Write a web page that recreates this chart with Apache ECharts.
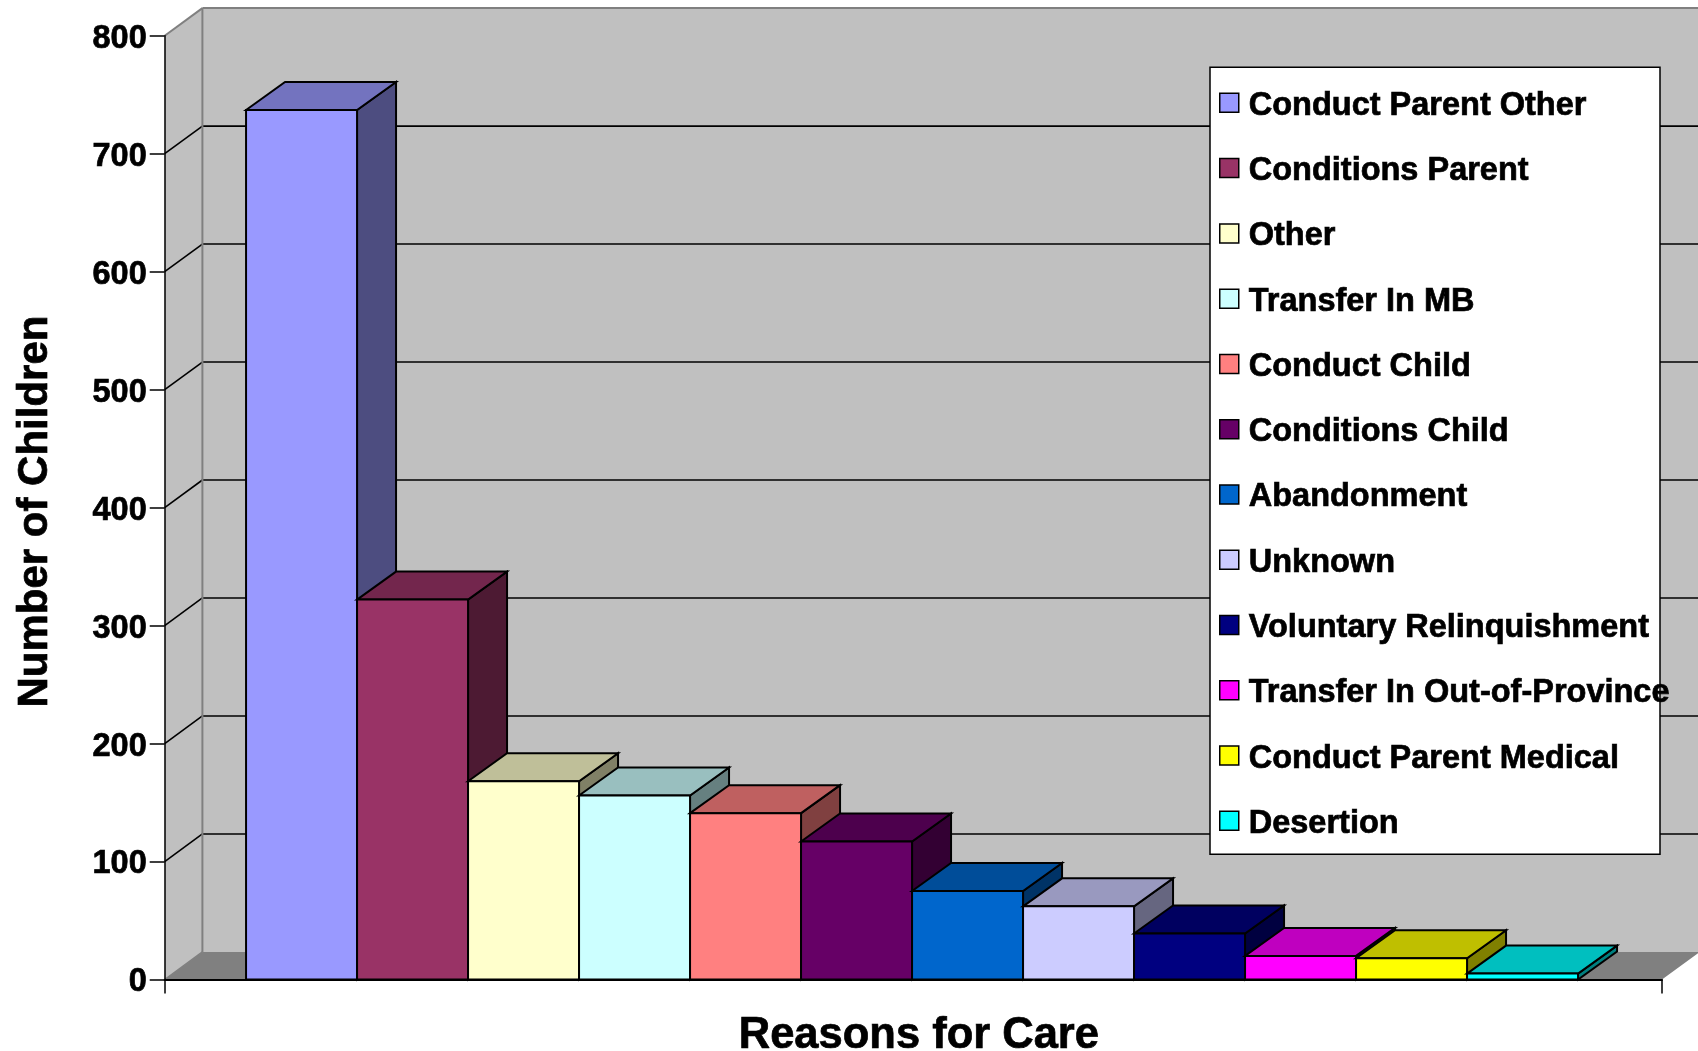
<!DOCTYPE html>
<html><head><meta charset="utf-8">
<style>html,body{margin:0;padding:0;background:#fff;overflow:hidden}#c{width:1698px;height:1051px}</style>
<script src="https://cdn.jsdelivr.net/npm/echarts@6/dist/echarts.min.js"></script>
</head><body><div id="c"></div>
<script>
const categories = ["Reasons for Care"];
const reasons = ["Conduct Parent Other","Conditions Parent","Other","Transfer In MB","Conduct Child","Conditions Child","Abandonment","Unknown","Voluntary Relinquishment","Transfer In Out-of-Province","Conduct Parent Medical","Desertion"];
const children = [737,322,168,156,141,117,75,62,39,20,18,5];
const yTicks = [0,100,200,300,400,500,600,700,800];
const frontColors = ["#9999FF","#993366","#FFFFCC","#CCFFFF","#FF8080","#660066","#0066CC","#CCCCFF","#000080","#FF00FF","#FFFF00","#00FFFF"];

const FONT = "'Liberation Sans', Arial, sans-serif";
const WALL_DX = 37.7, WALL_DY = 27.6, BAR_DX = 39, BAR_DY = 28;
const BAR_FILL = 1332 / 1497.3, BAR_SHIFT = -1.3;
const EDGE = 2;
function shade(hex, f){
  const n = parseInt(hex.slice(1),16);
  const p = [(n>>16)&255,(n>>8)&255,n&255].map(v=>Math.round(v*f));
  return 'rgb('+p.join(',')+')';
}
function poly(points, fill, stroke, lw){
  return {type:'polygon', shape:{points}, style:{fill, stroke, lineWidth:lw, lineJoin:'miter'}};
}
function line(x1,y1,x2,y2,color,lw){
  return {type:'line', shape:{x1,y1,x2,y2}, style:{stroke:color, lineWidth:lw, fill:null}};
}
function renderWalls(params, api){
  const c = api.coord([0,0]);
  const band = api.size([1,0])[0];
  const L = c[0]-band/2, R = c[0]+band/2;
  const y0 = c[1], yT = api.coord([0,yTicks[yTicks.length-1]])[1];
  const d = WALL_DX, e = WALL_DY;
  const kids = [
    poly([[L+d,yT-e],[R+d+40,yT-e],[R+d+40,y0-e],[L+d,y0-e]],'#C0C0C0',null,0),
    poly([[L,yT],[L+d,yT-e],[L+d,y0-e],[L,y0]],'#C0C0C0',null,0),
    poly([[L,y0],[L+d,y0-e],[R+d+40,y0-e],[R+d,y0-e],[R,y0]],'#808080',null,0)
  ];
  yTicks.slice(1,-1).forEach(v=>{
    const y = api.coord([0,v])[1];
    kids.push(line(L,y,L+d,y-e,'#000',1.6));
    kids.push(line(L+d,y-e,R+d+40,y-e,'#000',1.6));
  });
  kids.push(line(L,yT,L+d,yT-e,'#808080',2));
  kids.push(line(L+d,yT-e,R+d+40,yT-e,'#808080',2));
  kids.push(line(L+d,yT-e,L+d,y0-e,'#808080',2));
  kids.push(line(L,y0,L+d,y0-e,'#808080',1.5));
  return {type:'group', children:kids};
}
function renderBar(i){
  return function(params, api){
    const v = api.value(1);
    const base = api.coord([0,0]);
    const top = api.coord([0,v]);
    const w = api.size([1,0])[0]*BAR_FILL/reasons.length;
    const x1 = base[0]+BAR_SHIFT-w*reasons.length/2+i*w, x2 = x1+w;
    const y0 = base[1], y1 = top[1];
    const d = BAR_DX, e = BAR_DY, col = frontColors[i];
    return {type:'group', children:[
      poly([[x2,y1],[x2+d,y1-e],[x2+d,y0-e],[x2,y0]], shade(col,0.5),'#000',EDGE),
      poly([[x1,y1],[x1+d,y1-e],[x2+d,y1-e],[x2,y1]], shade(col,0.75),'#000',EDGE),
      poly([[x1,y1],[x2,y1],[x2,y0],[x1,y0]], col,'#000',EDGE)
    ]};
  };
}
const series = [{
  type:'custom', name:'walls', coordinateSystem:'cartesian2d', z:1, silent:true,
  encode:{x:0,y:1}, data:[[0,0]], renderItem:renderWalls, clip:false
}];
reasons.forEach((name,i)=>{
  series.push({
    type:'custom', name, coordinateSystem:'cartesian2d', z:2+i*0.01, silent:true,
    encode:{x:0,y:1}, data:[[0,children[i]]], renderItem:renderBar(i), clip:false,
    itemStyle:{color:frontColors[i]}
  });
});
const boldText = {fontFamily:FONT,fontWeight:'bold',fontSize:32.5,color:'#000',textBorderColor:'#000',textBorderWidth:0.7};
const chart = echarts.init(document.getElementById('c'),null,{renderer:'canvas'});
chart.setOption({
  animation:false,
  backgroundColor:'#fff',
  grid:{left:164.7,right:36,top:35.7,bottom:71.5,containLabel:false,outerBoundsMode:'none'},
  xAxis:{type:'category',data:categories,z:5,
    name:categories[0],nameLocation:'middle',nameGap:34,
    nameTextStyle:{fontFamily:FONT,fontWeight:'bold',fontSize:43.5,color:'#000',textBorderColor:'#000',textBorderWidth:0.7,padding:[0,0,0,11]},
    axisLine:{show:true,lineStyle:{color:'#000',width:2}},
    axisTick:{show:true,length:14,lineStyle:{color:'#000',width:1.5}},
    axisLabel:{show:false},splitLine:{show:false}},
  yAxis:{type:'value',min:0,max:800,interval:100,z:5,
    name:'Number of Children',nameLocation:'middle',nameGap:108,nameRotate:90,
    nameTextStyle:{fontFamily:FONT,fontWeight:'bold',fontSize:42,color:'#000',textBorderColor:'#000',textBorderWidth:0.7,padding:[0,8,0,0]},
    axisLine:{show:true,lineStyle:{color:'#000',width:1.5}},
    axisTick:{show:true,length:15,lineStyle:{color:'#000',width:1.5}},
    axisLabel:{margin:18,formatter:'{v|{value}}',rich:{v:Object.assign({padding:[6,0,0,0]},boldText)}},
    splitLine:{show:false}},
  graphic:[{type:'rect',z:9,shape:{x:1210,y:67.3,width:450,height:787},style:{fill:'#fff',stroke:'#000',lineWidth:1.5}}],
  legend:{orient:'vertical',left:1219,top:89,padding:0,z:10,selectedMode:false,
    itemWidth:19,itemHeight:19,itemGap:31.57,icon:'rect',
    data:reasons.map((name,i)=>({name,itemStyle:{color:frontColors[i],borderColor:'#000',borderWidth:1.5}})),
    formatter:n=>'{t|'+n+'}',
    textStyle:Object.assign({padding:[0,0,0,5],rich:{t:Object.assign({padding:[6,0,0,0]},boldText)}},boldText)},
  series
});
</script></body></html>
